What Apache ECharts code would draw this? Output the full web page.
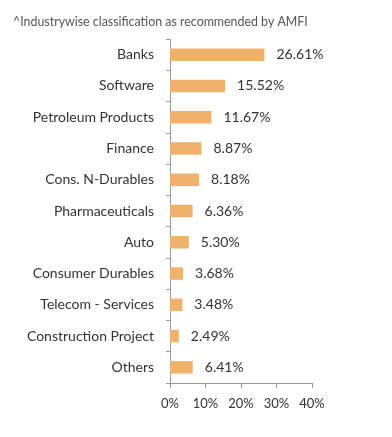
<!DOCTYPE html>
<html><head><meta charset="utf-8">
<script src="https://cdn.jsdelivr.net/npm/echarts@6/dist/echarts.min.js"></script>
<style>html,body{margin:0;padding:0;background:#fff}#c{width:392px;height:437px}</style>
</head><body><div id="c"></div>
<script>
var categories = ["Banks","Software","Petroleum Products","Finance","Cons. N-Durables","Pharmaceuticals","Auto","Consumer Durables","Telecom - Services","Construction Project","Others"];
var values = [26.61,15.52,11.67,8.87,8.18,6.36,5.30,3.68,3.48,2.49,6.41];
var xTicks = [0,10,20,30,40];
var titleText = "^Industrywise classification as recommended by AMFI";
var chart = echarts.init(document.getElementById('c'));
var axisColor = '#9a9a9a';
chart.setOption({
  animation:false,
  title:{text:titleText,left:8,top:11,textStyle:{fontFamily:'Lato',fontSize:12.4,fontWeight:'normal',color:'#555'}},
  grid:{left:170,right:80,top:39,bottom:54,containLabel:false},
  xAxis:{type:'value',min:xTicks[0],max:xTicks[xTicks.length-1],interval:10,
    axisLine:{show:true,lineStyle:{color:axisColor,width:1}},
    axisTick:{show:true,length:5,lineStyle:{color:axisColor}},
    splitLine:{show:false},
    axisLabel:{margin:14,fontFamily:'Lato',fontSize:13,color:'#333',formatter:function(v){return v+'%';}}},
  yAxis:{type:'category',data:categories,inverse:true,
    axisLine:{show:true,lineStyle:{color:axisColor,width:1}},
    axisTick:{show:true,length:4,lineStyle:{color:axisColor}},
    axisLabel:{margin:16,fontFamily:'Lato',fontSize:14,color:'#333'}},
  series:[{type:'bar',data:values,barWidth:12.5,
    itemStyle:{color:'#F0B26B'},
    label:{show:true,position:'right',distance:12,fontFamily:'Lato',fontSize:14,color:'#333',
      formatter:function(p){return p.value.toFixed(2)+'%';}}}]
});
</script></body></html>
